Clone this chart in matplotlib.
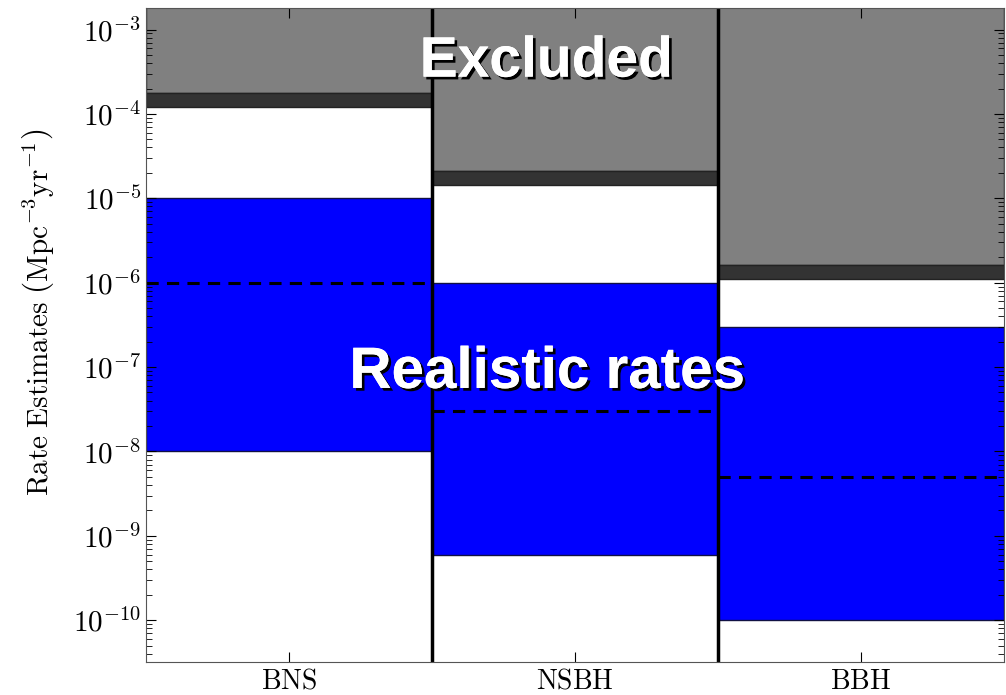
import matplotlib
matplotlib.use("Agg")
from matplotlib import pyplot as plt
from matplotlib.ticker import FuncFormatter, NullFormatter, FixedLocator
import matplotlib.patheffects as pe
import numpy as np

# rate bands per source class (Mpc^-3 yr^-1)
categories = ["BNS", "NSBH", "BBH"]
excluded_top = [1.75e-4, 2.1e-5, 1.6e-6]     # upper edge of dark band
excluded_bottom = [1.2e-4, 1.45e-5, 1.1e-6]  # lower edge of dark band
realistic_high = [1e-5, 1e-6, 3e-7]
realistic_low = [1e-8, 6e-10, 1e-10]
realistic_median = [1e-6, 3e-8, 5e-9]
decades = [-10, -9, -8, -7, -6, -5, -4, -3]

Y_MIN = 3.2e-11
Y_MAX = 1.8e-3

plt.rcParams["mathtext.fontset"] = "cm"
plt.rcParams["xtick.direction"] = "in"
plt.rcParams["ytick.direction"] = "in"

fig = plt.figure(figsize=(10.06, 6.95), dpi=100)
ax = fig.add_axes([0.145, 0.0475, 0.853, 0.941])

x = np.arange(len(categories))
ax.bar(x, [1e-1 - t for t in excluded_top], bottom=excluded_top, width=1, align="edge",
       color="#808080", edgecolor="#222222", linewidth=1)
ax.bar(x, np.array(excluded_top) - np.array(excluded_bottom), bottom=excluded_bottom, width=1,
       align="edge", color="#333333", edgecolor="#222222", linewidth=1)
ax.bar(x, np.array(realistic_high) - np.array(realistic_low), bottom=realistic_low, width=1,
       align="edge", color="#0000ff", edgecolor="#111144", linewidth=1)
ax.hlines(realistic_median, x, x + 1, colors="black", linewidth=2.2, linestyles=(0, (4, 2.7)))

for i in range(1, len(categories)):
    ax.axvline(i, color="black", linewidth=2.5)

ax.set_yscale("log")
ax.set_ylim(Y_MIN, Y_MAX)
ax.yaxis.set_major_locator(FixedLocator([10.0 ** d for d in decades]))
minor = [m * 10.0 ** d for d in range(-11, -2) for m in range(2, 10)]
ax.yaxis.set_minor_locator(FixedLocator([v for v in minor if Y_MIN < v < Y_MAX]))
ax.yaxis.set_major_formatter(FuncFormatter(lambda v, pos: r"$10^{%d}$" % round(np.log10(v))))
ax.yaxis.set_minor_formatter(NullFormatter())
ax.set_xlim(0, len(categories))
ax.set_xticks(x + 0.5)
ax.set_xticklabels([r"$\mathrm{%s}$" % c for c in categories], fontsize=20)
ax.tick_params(axis="y", labelsize=21, which="both", right=True)
ax.tick_params(axis="x", top=True)
ax.tick_params(which="major", length=7)
ax.tick_params(which="minor", length=4)
ax.set_ylabel(r"$\mathrm{Rate\ Estimates}\ \left(\mathrm{Mpc}^{-3}\mathrm{yr}^{-1}\right)$",
              fontsize=21)
ax.yaxis.set_label_coords(-0.105, 0.535)
for s in ax.spines.values():
    s.set_color("#555555")

shadow = [pe.withSimplePatchShadow(offset=(2, -2), shadow_rgbFace="black", alpha=1), pe.Normal()]
ax.text(0.467, 0.918, "Excluded", transform=ax.transAxes, ha="center", va="center",
        fontsize=41, fontweight="bold", color="white", family="Liberation Sans",
        path_effects=shadow)
ax.text(0.468, 0.442, "Realistic rates", transform=ax.transAxes, ha="center", va="center",
        fontsize=42, fontweight="bold", color="white", family="Liberation Sans",
        path_effects=shadow)

fig.savefig("out.png", dpi=100)
